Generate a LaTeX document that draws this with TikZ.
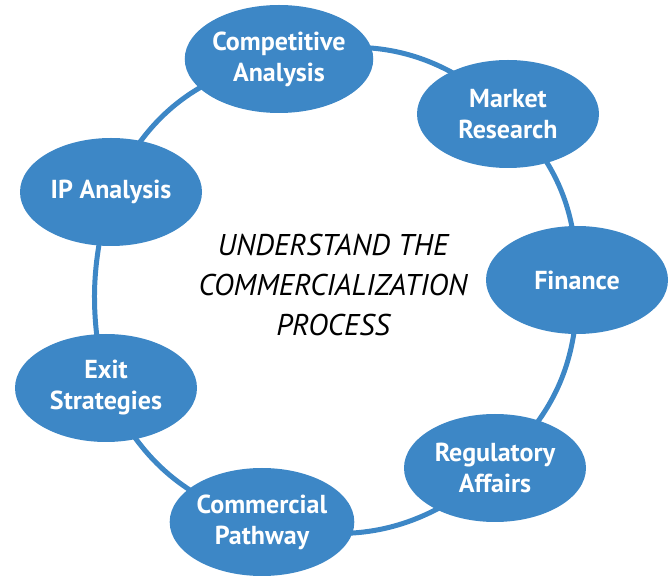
\documentclass[tikz,border=0pt]{standalone}
\usepackage{fontspec}
\setmainfont{PT Sans}
\usepackage{tikz}
\usetikzlibrary{shapes.geometric}
\pgfdeclarelayer{back}
\pgfsetlayers{back,main}
\definecolor{ringblue}{RGB}{61,135,198}

\begin{document}
\begin{tikzpicture}[x=1pt, y=1pt, every node/.style={ellipse, fill=ringblue, text=white, minimum width=182pt, minimum height=108pt, inner sep=0pt, align=center, font=\bfseries\fontsize{26}{31}\selectfont}]
\useasboundingbox (0,0) rectangle (670,576);
\node (comp) at (279, 517) {Competitive\\Analysis};
\node (market) at (508, 462) {Market\\Research};
\node (finance) at (577, 296) {Finance};
\node (reg) at (495, 108) {Regulatory\\Affairs};
\node (comm) at (262, 54) {Commercial\\Pathway};
\node (exit) at (106, 188) {Exit\\Strategies};
\node (ip) at (111, 384) {IP Analysis};
\begin{pgfonlayer}{back}
\draw[ringblue, line width=5pt] (comp.center) to[bend left=30] (market.center);
\draw[ringblue, line width=5pt] (market.center) to[bend left=22] (finance.center);
\draw[ringblue, line width=5pt] (finance.center) to[bend left=25] (reg.center);
\draw[ringblue, line width=5pt] (reg.center) to[bend left=29] (comm.center);
\draw[ringblue, line width=5pt] (comm.center) to[bend left=24] (exit.center);
\draw[ringblue, line width=5pt] (exit.center) to[bend left=14] (ip.center);
\draw[ringblue, line width=5pt] (ip.center) to[bend left=27] (comp.center);
\end{pgfonlayer}
\node[rectangle, fill=none, text=black, minimum width=0pt, minimum height=0pt, font=\itshape\fontsize{30}{40}\selectfont] (title) at (333, 291) {UNDERSTAND THE\\COMMERCIALIZATION\\PROCESS};
\end{tikzpicture}
\end{document}
